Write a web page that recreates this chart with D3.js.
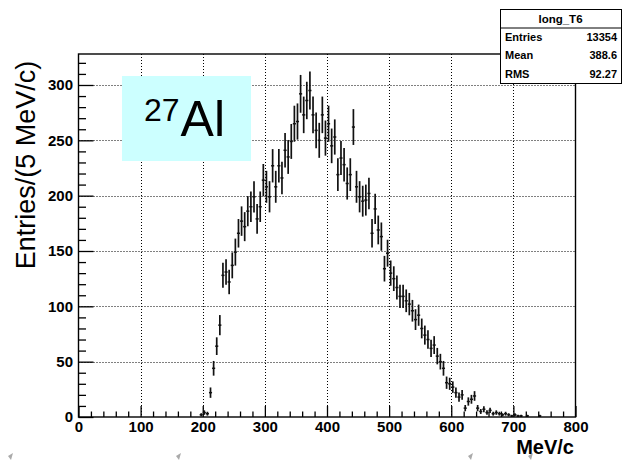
<!DOCTYPE html>
<html>
<head>
<meta charset="utf-8">
<script src="https://cdn.jsdelivr.net/npm/d3@7"></script>
<style>
  body { margin: 0; background: #fff; }
  svg { display: block; }
  text { font-family: "Liberation Sans", Arial, Helvetica, sans-serif; }
</style>
</head>
<body>
<svg id="chart" width="624" height="460"></svg>
<script>
// Momentum spectrum, 5 MeV/c bins, first non-empty bin starts at 195 MeV/c
const binWidth = 5;
const firstBinLow = 195;
const counts = [
  2, 4, 3, 22, 44, 64, 83,
  128, 131, 122, 137, 149, 166, 177, 172, 186, 190,
  199, 179, 190, 214, 208, 199, 227, 208, 227, 216,
  241, 235, 249, 265, 267, 292, 273, 286, 295, 273,
  259, 250, 273, 252, 265, 245, 253, 219,
  234, 228, 211, 219, 262, 208, 199, 195, 196, 202,
  166, 188, 169, 163, 134, 148, 130, 125, 117, 109, 109, 105, 102,
  96, 88, 92, 80, 74, 70, 62, 65, 55, 50, 44, 31, 30, 27, 22, 18, 20,
  8, 14, 16, 19, 8, 5, 7, 4, 6, 3, 4, 3, 2, 3, 2, 1, 2, 1, 1, 0, 1,
  0, 0, 0, 1
];

const xMajorTicks = [0, 100, 200, 300, 400, 500, 600, 700, 800];
const xMinorTicks = [20, 40, 60, 80, 120, 140, 160, 180, 220, 240, 260, 280,
  320, 340, 360, 380, 420, 440, 460, 480, 520, 540, 560, 580,
  620, 640, 660, 680, 720, 740, 760, 780];
const yMajorTicks = [0, 50, 100, 150, 200, 250, 300];
const yMinorTicks = [10, 20, 30, 40, 60, 70, 80, 90, 110, 120, 130, 140,
  160, 170, 180, 190, 210, 220, 230, 240, 260, 270, 280, 290, 310, 320];
const xGrid = [100, 200, 300, 400, 500, 600, 700];
const yGrid = [50, 100, 150, 200, 250, 300];

const statsTitle = "long_T6";
const statsLabels = ["Entries", "Mean", "RMS"];
const statsValues = ["13354", "388.6", "92.27"];

const xTitle = "MeV/c";
const yTitle = "Entries/(5 MeV/c)";
const isotopeMass = "27";
const isotopeSymbol = "Al";

const frame = { left: 78.5, right: 575.5, top: 54, bottom: 417 };

const svg = d3.select("#chart");

const x = d3.scaleLinear().domain([0, 800]).range([frame.left, frame.right]);
const y = d3.scaleLinear().domain([0, 328]).range([frame.bottom, frame.top]);

// dotted grid
const grid = svg.append("g")
  .attr("stroke", "#000").attr("stroke-width", 1)
  .attr("stroke-dasharray", "1,2");
grid.selectAll("line.gx").data(xGrid).join("line")
  .attr("class", "gx")
  .attr("x1", d => Math.round(x(d)) + 0.5).attr("x2", d => Math.round(x(d)) + 0.5)
  .attr("y1", frame.top).attr("y2", frame.bottom);
grid.selectAll("line.gy").data(yGrid).join("line")
  .attr("class", "gy")
  .attr("x1", frame.left).attr("x2", frame.right)
  .attr("y1", d => Math.round(y(d)) + 0.5).attr("y2", d => Math.round(y(d)) + 0.5);

// isotope label box
svg.append("rect")
  .attr("x", 122).attr("y", 76).attr("width", 129).attr("height", 85)
  .attr("fill", "#ccffff");
const iso = svg.append("text")
  .attr("x", 144).attr("y", 136)
  .attr("fill", "#000");
iso.append("tspan").attr("font-size", 32).attr("dy", -15).text(isotopeMass);
iso.append("tspan").attr("font-size", 50).attr("dy", 15).attr("dx", 1).text(isotopeSymbol);

// axes with inward ticks
const fmt = d3.format("d");
const xAxis = svg.append("g")
  .attr("transform", `translate(0,${frame.bottom})`)
  .call(d3.axisBottom(x).tickValues(xMajorTicks).tickSizeInner(-11).tickSizeOuter(0)
    .tickPadding(4.5).tickFormat(fmt));
const xMinor = svg.append("g")
  .attr("transform", `translate(0,${frame.bottom})`)
  .call(d3.axisBottom(x).tickValues(xMinorTicks).tickSizeInner(-5.5).tickSizeOuter(0)
    .tickFormat(""));
const yAxis = svg.append("g")
  .attr("transform", `translate(${frame.left},0)`)
  .call(d3.axisLeft(y).tickValues(yMajorTicks).tickSizeInner(-15).tickSizeOuter(0)
    .tickPadding(5.5).tickFormat(fmt));
const yMinor = svg.append("g")
  .attr("transform", `translate(${frame.left},0)`)
  .call(d3.axisLeft(y).tickValues(yMinorTicks).tickSizeInner(-7.5).tickSizeOuter(0)
    .tickFormat(""));

[xAxis, xMinor, yAxis, yMinor].forEach(g => {
  g.select(".domain").remove();
  g.selectAll(".tick line").attr("stroke", "#000").attr("stroke-width", 1.3);
  g.selectAll(".tick text")
    .attr("fill", "#000")
    .attr("font-family", "\"Liberation Sans\", Arial, sans-serif")
    .attr("font-size", 15).attr("font-weight", "bold");
});

// histogram with statistical error bars
const bins = counts.map((c, i) => ({
  lo: firstBinLow + i * binWidth,
  hi: firstBinLow + (i + 1) * binWidth,
  c: c
})).filter(d => d.c > 0);

const marks = svg.append("g").attr("stroke", "#111");
marks.selectAll("line.ev").data(bins).join("line")
  .attr("class", "ev")
  .attr("stroke-width", 1.7)
  .attr("x1", d => x((d.lo + d.hi) / 2)).attr("x2", d => x((d.lo + d.hi) / 2))
  .attr("y1", d => y(Math.max(0, d.c - Math.sqrt(d.c))))
  .attr("y2", d => y(d.c + Math.sqrt(d.c)));
marks.selectAll("line.eh").data(bins).join("line")
  .attr("class", "eh")
  .attr("stroke-width", 1.5)
  .attr("x1", d => x(d.lo)).attr("x2", d => x(d.hi))
  .attr("y1", d => y(d.c)).attr("y2", d => y(d.c));

// frame
svg.append("rect")
  .attr("x", frame.left).attr("y", frame.top)
  .attr("width", frame.right - frame.left).attr("height", frame.bottom - frame.top)
  .attr("fill", "none").attr("stroke", "#000").attr("stroke-width", 1.4);

// axis titles
svg.append("text")
  .attr("transform", "translate(35,165) rotate(-90)")
  .attr("text-anchor", "middle")
  .attr("font-size", 27).attr("fill", "#000")
  .text(yTitle);
svg.append("text")
  .attr("x", 574).attr("y", 454)
  .attr("text-anchor", "end")
  .attr("font-size", 20).attr("font-weight", "bold").attr("fill", "#000")
  .text(xTitle);

// statistics box
const stats = { x: 500, y: 9, w: 121, rowH: 18.5 };
const sb = svg.append("g");
sb.append("rect")
  .attr("x", stats.x + 0.5).attr("y", stats.y + 0.5)
  .attr("width", stats.w).attr("height", stats.rowH * 4)
  .attr("fill", "#fff").attr("stroke", "#000").attr("stroke-width", 1);
sb.append("line")
  .attr("x1", stats.x).attr("x2", stats.x + stats.w)
  .attr("y1", stats.y + stats.rowH + 0.5).attr("y2", stats.y + stats.rowH + 0.5)
  .attr("stroke", "#000").attr("stroke-width", 1);
sb.append("text")
  .attr("x", stats.x + stats.w / 2).attr("y", stats.y + stats.rowH / 2 + 4.5)
  .attr("text-anchor", "middle")
  .attr("font-size", 11.5).attr("font-weight", "bold").attr("fill", "#000")
  .text(statsTitle);
sb.selectAll("text.lab").data(statsLabels).join("text")
  .attr("class", "lab")
  .attr("x", stats.x + 5)
  .attr("y", (d, i) => stats.y + stats.rowH * (i + 1.5) + 4)
  .attr("font-size", 11).attr("font-weight", "bold").attr("fill", "#000")
  .text(d => d);
sb.selectAll("text.val").data(statsValues).join("text")
  .attr("class", "val")
  .attr("x", stats.x + stats.w - 4)
  .attr("y", (d, i) => stats.y + stats.rowH * (i + 1.5) + 4)
  .attr("text-anchor", "end")
  .attr("font-size", 11).attr("font-weight", "bold").attr("fill", "#000")
  .text(d => d);

// small grey slide markers along the bottom edge
const markerXs = [8, 176, 468, 528];
svg.append("g").attr("fill", "#aaa")
  .selectAll("path").data(markerXs).join("path")
  .attr("d", d => `M${d},456 L${d + 5},453 L${d + 3},460 Z`);
</script>
</body>
</html>
